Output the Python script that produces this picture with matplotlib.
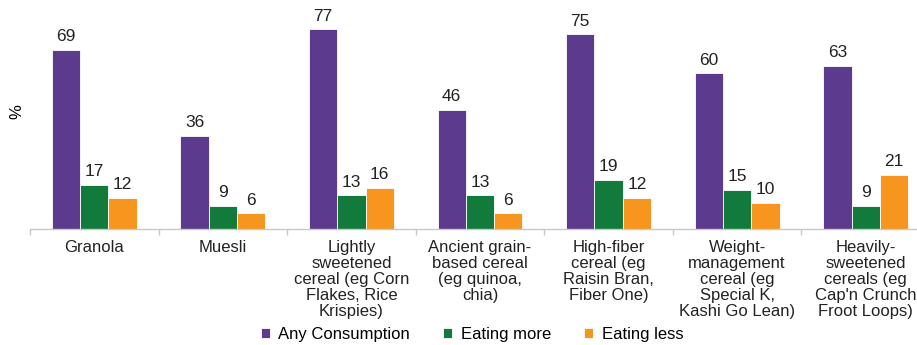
import numpy as np
import matplotlib
matplotlib.use("Agg")
import matplotlib.pyplot as plt

plt.rcParams['font.family'] = ['Liberation Sans', 'DejaVu Sans']

# data
categories = [
    "Granola",
    "Muesli",
    "Lightly\nsweetened\ncereal (eg Corn\nFlakes, Rice\nKrispies)",
    "Ancient grain-\nbased cereal\n(eg quinoa,\nchia)",
    "High-fiber\ncereal (eg\nRaisin Bran,\nFiber One)",
    "Weight-\nmanagement\ncereal (eg\nSpecial K,\nKashi Go Lean)",
    "Heavily-\nsweetened\ncereals (eg\nCap'n Crunch\nFroot Loops)",
]
any_consumption = [69, 36, 77, 46, 75, 60, 63]
eating_more = [17, 9, 13, 13, 19, 15, 9]
eating_less = [12, 6, 16, 6, 12, 10, 21]

series = [
    ("Any Consumption", any_consumption, "#5c3a8e"),
    ("Eating more", eating_more, "#127a3b"),
    ("Eating less", eating_less, "#f6961e"),
]

W, H = 917, 345
fig = plt.figure(figsize=(W / 100, H / 100), dpi=100)
# axes runs slightly past the right edge, like the original crop
ax = fig.add_axes([30 / W, (H - 229) / H, 900 / W, 229 / H])

x = np.arange(len(categories))
bw = 0.22
for i, (name, vals, col) in enumerate(series):
    pos = x + (i - 1) * bw
    ax.bar(pos, vals, bw, color=col, label=name, edgecolor="white", linewidth=0.6)
    for p, v in zip(pos, vals):
        ax.text(p, v + 2.2, str(v), ha="center", va="bottom", fontsize=12.5, color="#222222")

ax.set_xlim(-0.5, len(categories) - 0.5)
ax.set_ylim(0, 88.3)
ax.set_yticks([])
for s in ["top", "right", "left"]:
    ax.spines[s].set_visible(False)
ax.spines["bottom"].set_color("#c8c8c8")
ax.spines["bottom"].set_linewidth(1.0)

ax.set_xticks(np.arange(len(categories) + 1) - 0.5)
ax.set_xticklabels([])
ax.tick_params(axis="x", length=4, color="#c8c8c8", width=1)
for xi, lab in zip(x, categories):
    ax.text(xi, -4.3, lab, ha="center", va="top", fontsize=12, color="#222222",
            linespacing=1.08, transform=ax.transData)

fig.text(17 / W, 1 - 112 / H, "%", rotation=90, ha="center", va="center", fontsize=12)

leg = fig.legend(loc="center", bbox_to_anchor=(472 / W, 1 - 334 / H), ncol=3, frameon=False,
                 fontsize=12, handlelength=0.55, handleheight=0.55, handletextpad=0.5,
                 columnspacing=2.0)

fig.savefig("out.png", dpi=100)
